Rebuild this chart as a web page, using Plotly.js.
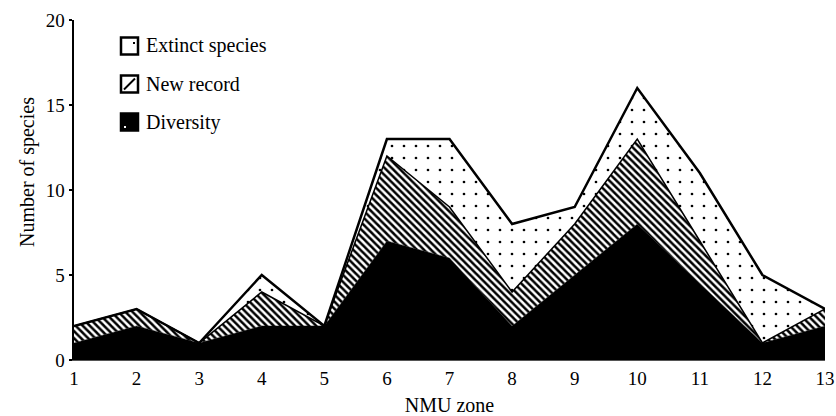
<!DOCTYPE html>
<html>
<head>
<meta charset="utf-8">
<script src="https://cdn.plot.ly/plotly-3.0.1.min.js"></script>
<style>html,body{margin:0;padding:0;background:#fff;}#chart{width:836px;height:416px;}</style>
</head>
<body>
<div id="chart"></div>
<script>
// NMU zones (x categories)
const zones = [1, 2, 3, 4, 5, 6, 7, 8, 9, 10, 11, 12, 13];
// Stacked series values (layer thickness), bottom to top
const diversity = [1, 2, 1, 2, 2, 7, 6, 2, 5, 8, 4.5, 1, 2];
const newRecord = [1, 1, 0, 2, 0, 5, 3, 2, 3, 5, 2.5, 0, 1];
const extinct   = [0, 0, 0, 1, 0, 1, 4, 4, 1, 3, 4, 4, 0];
// Tick labels
const yTicks = [0, 5, 10, 15, 20];
const legendNames = ["Extinct species", "New record", "Diversity"];

const serif = "Liberation Serif, Times New Roman, serif";

const traces = [
  {
    x: zones, y: diversity, name: legendNames[2], type: "scatter", mode: "lines",
    stackgroup: "one", line: {color: "black", width: 0.5},
    fillcolor: "black", hoverinfo: "skip"
  },
  {
    x: zones, y: newRecord, name: legendNames[1], type: "scatter", mode: "lines",
    stackgroup: "one", line: {color: "black", width: 1.5},
    fillcolor: "white",
    fillpattern: {shape: "\\", size: 5, solidity: 0.5, fgcolor: "black", bgcolor: "white"},
    hoverinfo: "skip"
  },
  {
    x: zones, y: extinct, name: legendNames[0], type: "scatter", mode: "lines",
    stackgroup: "one", line: {color: "black", width: 2.5},
    fillcolor: "white",
    fillpattern: {shape: ".", size: 12, solidity: 0.04, fgcolor: "black", bgcolor: "white"},
    hoverinfo: "skip"
  }
];

// Custom legend (paper coords). Plot area: l=74, t=20, w=751, h=340
const L = 74, T = 20, W = 751, H = 340;
const px = v => (v - L) / W;
const py = v => (T + H - v) / H;

const shapes = [];
const annotations = [];
const rows = [46, 84, 122];
rows.forEach((cy, i) => {
  const x0 = 121, x1 = 138, y0 = cy - 8.5, y1 = cy + 8.5;
  shapes.push({type: "rect", xref: "paper", yref: "paper",
    x0: px(x0), x1: px(x1), y0: py(y1), y1: py(y0),
    line: {color: "black", width: 2.5}, fillcolor: i === 2 ? "black" : "white"});
  if (i === 1) {
    shapes.push({type: "line", xref: "paper", yref: "paper",
      x0: px(x0 + 3), x1: px(x1 - 3), y0: py(y1 - 3), y1: py(y0 + 3),
      line: {color: "black", width: 2}});
  }
  if (i === 0) {
    shapes.push({type: "rect", xref: "paper", yref: "paper",
      x0: px(133), x1: px(135), y0: py(cy - 2), y1: py(cy - 4),
      line: {width: 0}, fillcolor: "black"});
  }
  if (i === 2) {
    shapes.push({type: "rect", xref: "paper", yref: "paper",
      x0: px(124), x1: px(126), y0: py(cy + 6), y1: py(cy + 4),
      line: {width: 0}, fillcolor: "white"});
  }
  annotations.push({xref: "paper", yref: "paper", x: px(144), y: py(cy),
    xanchor: "left", yanchor: "middle", showarrow: false,
    text: legendNames[i], font: {family: serif, size: 20, color: "black"}});
});

// Y-axis title
annotations.push({xref: "paper", yref: "paper", x: px(27), y: py(172),
  xanchor: "center", yanchor: "middle", showarrow: false, textangle: -90,
  text: "Number of species", font: {family: serif, size: 20, color: "black"}});

const layout = {
  width: 836, height: 416,
  margin: {l: L, r: 836 - L - W, t: T, b: 416 - T - H, pad: 0},
  paper_bgcolor: "white", plot_bgcolor: "white",
  showlegend: false,
  font: {family: serif, color: "black", size: 19},
  xaxis: {
    range: [1, 13], tickvals: zones, ticktext: zones.map(String),
    showgrid: false, zeroline: false, showline: true, linecolor: "#555", linewidth: 1,
    ticks: "", ticklabelstandoff: 1, ticklabeloverflow: "allow",
    tickfont: {family: serif, size: 19, color: "black"},
    title: {text: "NMU zone", font: {family: serif, size: 20, color: "black"}, standoff: 10},
    fixedrange: true
  },
  yaxis: {
    range: [0, 20], tickvals: yTicks, ticktext: yTicks.map(String),
    showgrid: false, zeroline: false, showline: true, linecolor: "black", linewidth: 2.5,
    ticks: "outside", ticklen: 3, tickwidth: 1.5, tickcolor: "black", ticklabelstandoff: 0,
    tickfont: {family: serif, size: 19, color: "black"},
    fixedrange: true
  },
  shapes: shapes,
  annotations: annotations,
  hovermode: false
};

Plotly.newPlot("chart", traces, layout, {displayModeBar: false, staticPlot: true});
</script>
</body>
</html>
